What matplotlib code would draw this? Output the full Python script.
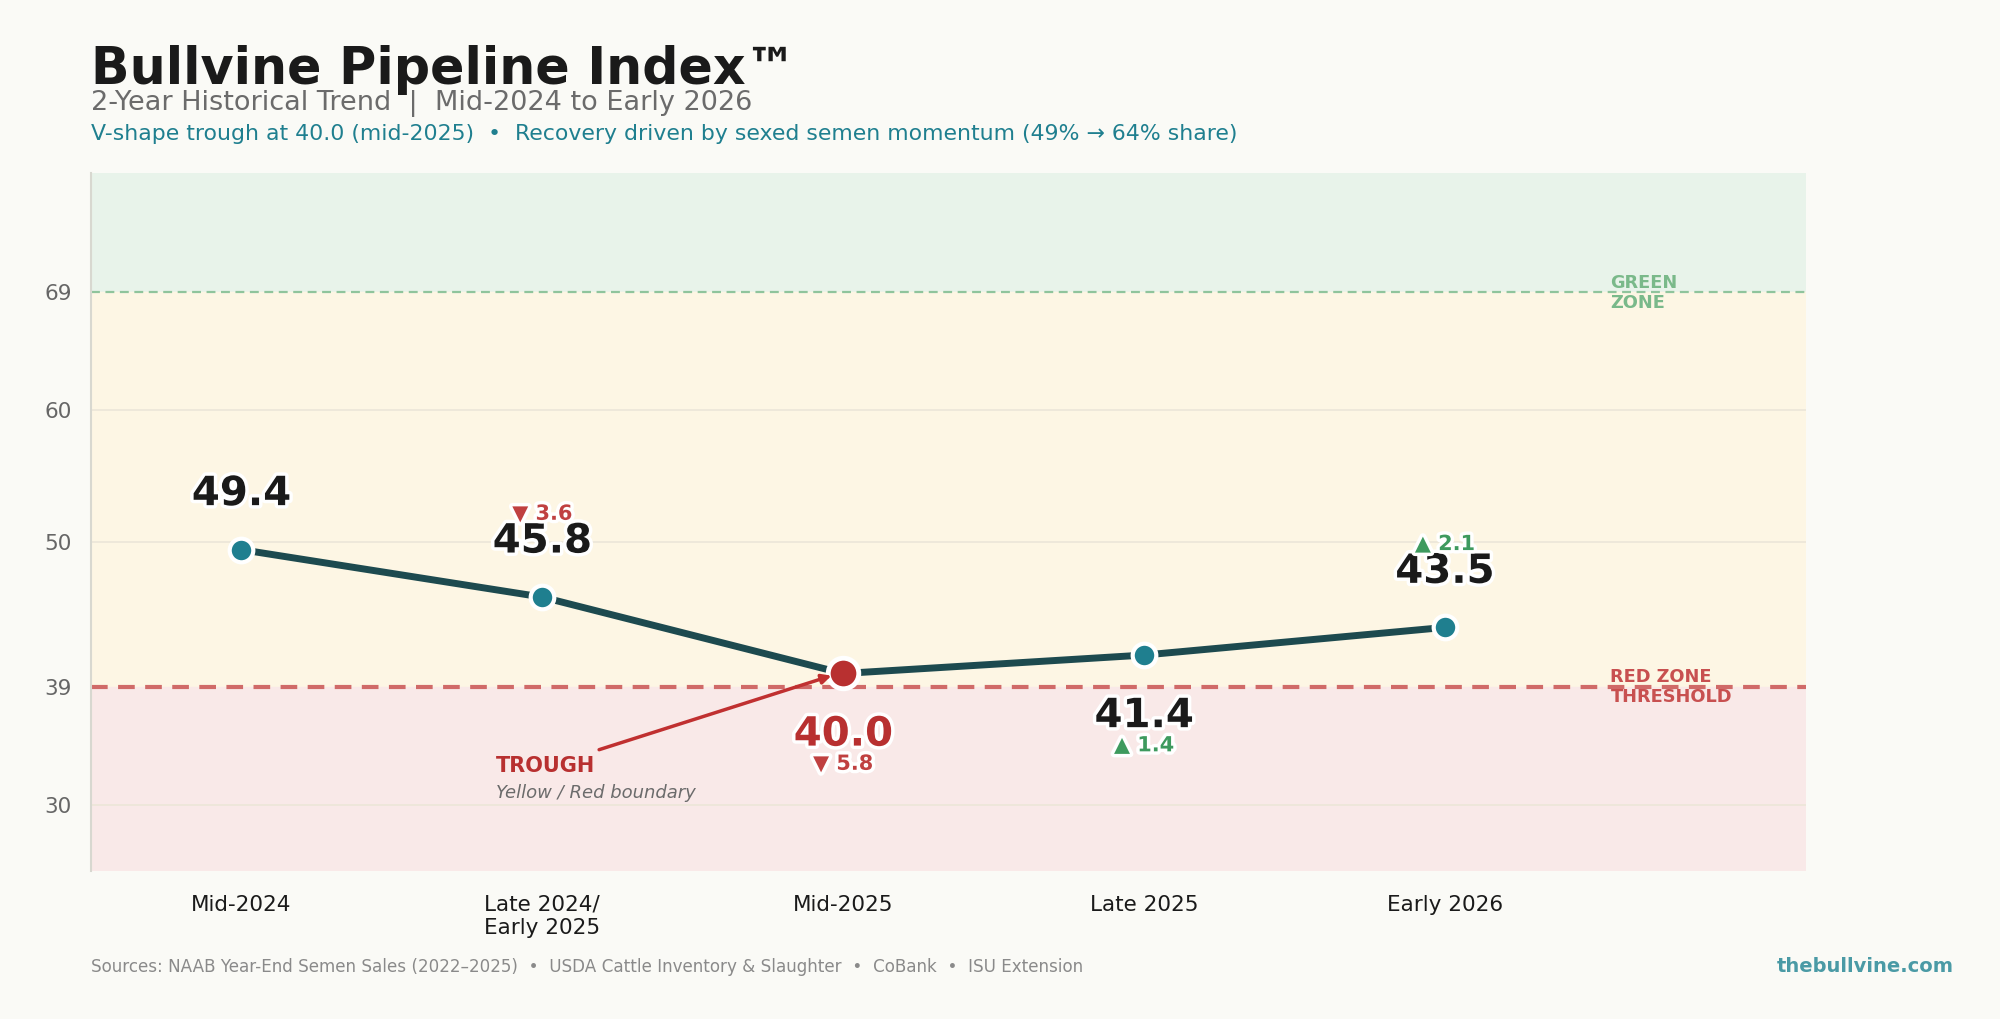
import matplotlib.pyplot as plt
import matplotlib.patheffects as pe

periods = ["Mid-2024", "Late 2024/\nEarly 2025", "Mid-2025", "Late 2025", "Early 2026"]
index_vals = [49.4, 45.8, 40.0, 41.4, 43.5]
deltas = [None, "▼ 3.6", "▼ 5.8", "▲ 1.4", "▲ 2.1"]
label_below = [False, False, True, True, False]
y_ticks = [30, 39, 50, 60, 69]
green_line = 69
red_line = 39

BG = "#fafaf6"
TEAL = "#1f7f8f"
LINE = "#1d4a4f"
RED = "#b83030"
GREEN = "#3e9a5e"

plt.rcParams['font.family'] = ['DejaVu Sans']

fig = plt.figure(figsize=(20, 10.19), dpi=100, facecolor=BG)
ax = fig.add_axes([0.0455, 0.1452, 0.8575, 0.685])
ax.set_facecolor(BG)

x = list(range(len(index_vals)))
ax.set_xlim(-0.5, 5.2)
ax.set_ylim(25, 78)

# zone bands
ax.axhspan(green_line, 78, color="#e8f3ea", zorder=0)
ax.axhspan(red_line, green_line, color="#fdf6e4", zorder=0)
ax.axhspan(25, red_line, color="#f9e9e8", zorder=0)
for g in [30, 50, 60]:
    ax.axhline(g, color="#ece6d8", lw=1.2, zorder=1)
ax.axhline(green_line, color="#8fc49c", lw=1.6, ls=(0, (4, 2.5)), zorder=2)
ax.axhline(red_line, color="#d06a68", lw=3, ls=(0, (4, 2.5)), zorder=2)

ax.text(4.55, green_line + 0.68, "GREEN", color="#7ab98a", fontsize=12.8, fontweight="bold", va="center")
ax.text(4.55, green_line - 0.9, "ZONE", color="#7ab98a", fontsize=12.8, fontweight="bold", va="center")
ax.text(4.55, red_line + 0.76, "RED ZONE", color="#c85050", fontsize=12.8, fontweight="bold", va="center")
ax.text(4.55, red_line - 0.76, "THRESHOLD", color="#c85050", fontsize=12.8, fontweight="bold", va="center")

# main line
ax.plot(x, index_vals, color=LINE, lw=5, zorder=3, solid_capstyle="round")
trough = index_vals.index(min(index_vals))
for i, v in enumerate(index_vals):
    if i == trough:
        ax.plot(i, v, "o", ms=22, color=RED, mec="white", mew=3.5, zorder=4)
    else:
        ax.plot(i, v, "o", ms=17, color=TEAL, mec="white", mew=3, zorder=4)

stroke = [pe.withStroke(linewidth=5, foreground="white")]
for i, v in enumerate(index_vals):
    col = RED if i == trough else "#1a1a1a"
    d = deltas[i]
    dcol = GREEN if d and d.startswith("▲") else "#c04040"
    sign = -1 if label_below[i] else 1
    off_v = -44 if label_below[i] else 40
    off_d = -65 if label_below[i] else 60
    ax.annotate(f"{v:.1f}", (i, v), xytext=(0, off_v), textcoords="offset points",
                ha="center", va="center", fontsize=29, fontweight="bold", color=col,
                path_effects=stroke, zorder=6)
    if d:
        ax.annotate(d, (i, v), xytext=(0, off_d), textcoords="offset points",
                    ha="center", va="center", fontsize=15, fontweight="bold", color=dcol,
                    path_effects=stroke, zorder=6)

# trough callout
ax.annotate("", xy=(trough - 0.03, index_vals[trough] - 0.1), xytext=(1.18, 34.15),
            arrowprops=dict(arrowstyle="-|>", color="#c03030", lw=2.5, mutation_scale=14), zorder=5)
ax.text(0.847, 33.0, "TROUGH", color="#b83030", fontsize=15, fontweight="bold", va="center")
ax.text(0.847, 30.9, "Yellow / Red boundary", color="#6b6b6b", fontsize=13, style="italic", va="center")

ax.set_xticks(x)
ax.set_xticklabels(periods, fontsize=15.5, color="#1a1a1a")
ax.set_yticks(y_ticks)
ax.set_yticklabels([str(t) for t in y_ticks], fontsize=15.5, color="#666666")
ax.tick_params(length=0, pad=14)
ax.tick_params(axis="x", pad=17)
for s in ["top", "right", "bottom"]:
    ax.spines[s].set_visible(False)
ax.spines["left"].set_color("#d8d8d0")
ax.spines["left"].set_linewidth(1.5)

fig.text(0.0455, 0.918, "Bullvine Pipeline Index™", fontsize=36.5, fontweight="bold", color="#1a1a1a")
fig.text(0.0455, 0.892, "2-Year Historical Trend  |  Mid-2024 to Early 2026", fontsize=19.5, color="#6b6b6b")
fig.text(0.0455, 0.863, "V-shape trough at 40.0 (mid-2025)  •  Recovery driven by sexed semen momentum (49% → 64% share)",
         fontsize=15.8, color=TEAL)
fig.text(0.0455, 0.046, "Sources: NAAB Year-End Semen Sales (2022–2025)  •  USDA Cattle Inventory & Slaughter  •  CoBank  •  ISU Extension",
         fontsize=12.1, color="#8a8a8a")
fig.text(0.977, 0.046, "thebullvine.com", fontsize=14, fontweight="bold", color="#4a9aa5", ha="right")

fig.savefig("out.png", dpi=100, facecolor=BG)
